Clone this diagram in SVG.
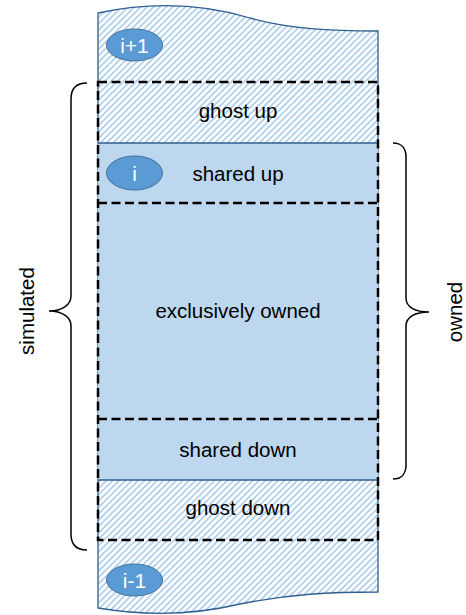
<svg xmlns="http://www.w3.org/2000/svg" width="466" height="615" viewBox="0 0 466 615">
<style>
.lbl{font-family:"Liberation Sans",Arial,sans-serif;font-size:20.5px;fill:#000;text-anchor:middle}
.num{font-family:"Liberation Sans",Arial,sans-serif;font-size:21px;fill:#fff;text-anchor:middle}
.ell{fill:#5B9BD5;stroke:#41719C;stroke-width:1}
.dash{fill:none;stroke:#000;stroke-width:2.5;stroke-dasharray:9 4.5}
.brace{fill:none;stroke:#000;stroke-width:1.5}
.edge{fill:none;stroke:#2F5F8F;stroke-width:1.5}
</style>
<defs>
<pattern id="hatch" patternUnits="userSpaceOnUse" width="4.5" height="4.5" patternTransform="rotate(45)">
<rect width="4.5" height="4.5" fill="#fff"/>
<line x1="1" y1="0" x2="1" y2="4.5" stroke="#A9CBEA" stroke-width="1.6"/>
</pattern>
</defs>
<g id="column">
<path d="M98,13 C150,2 200,3 250,18 C290,29 330,31 378,31 L378,592 C330,592 290,594 240,604 C190,616 140,615 98,608 Z" fill="url(#hatch)" stroke="#2F5F8F" stroke-width="1.3"/>
<rect x="98" y="143" width="280" height="337" fill="#BDD7EE"/>
<line class="edge" x1="98" y1="143" x2="378" y2="143"/>
<line class="edge" x1="98" y1="480" x2="378" y2="480"/>
</g>
<g id="regions">
<rect class="dash" x="98" y="82" width="280" height="458"/>
<line class="dash" x1="98" y1="203" x2="378" y2="203"/>
<line class="dash" x1="98" y1="419" x2="378" y2="419"/>
</g>
<g id="ghost-up"><text class="lbl" x="238" y="118">ghost up</text></g>
<g id="shared-up"><text class="lbl" x="238" y="181">shared up</text></g>
<g id="exclusively-owned"><text class="lbl" x="238" y="318">exclusively owned</text></g>
<g id="shared-down"><text class="lbl" x="238" y="457">shared down</text></g>
<g id="ghost-down"><text class="lbl" x="238" y="515">ghost down</text></g>
<g id="rank-ip1"><ellipse class="ell" cx="134.5" cy="45" rx="28" ry="16"/><text class="num" x="134.5" y="52.5">i+1</text></g>
<g id="rank-i"><ellipse class="ell" cx="134.5" cy="173" rx="28" ry="17"/><text class="num" x="134.5" y="180.5">i</text></g>
<g id="rank-im1"><ellipse class="ell" cx="134.5" cy="580" rx="28" ry="16"/><text class="num" x="134.5" y="587.5">i-1</text></g>
<g id="connectors">
<path class="brace" d="M87,83 C77,83 71,88 71,99 L71,296 C71,305 62,311 49,311 C62,311 71,317 71,326 L71,534 C71,545 77,550 87,550"/>
<path class="brace" d="M393,143 C401,143 406,148 406,157 L406,298 C406,307 415,312 429,312 C415,312 406,317 406,326 L406,465 C406,474 401,479 393,479"/>
</g>
<g id="simulated"><text class="lbl" transform="translate(34,311) rotate(-90)">simulated</text></g>
<g id="owned"><text class="lbl" transform="translate(462,312) rotate(-90)">owned</text></g>
</svg>
